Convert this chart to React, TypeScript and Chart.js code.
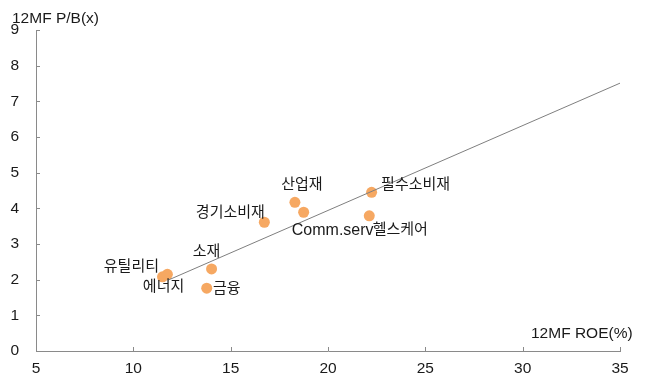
import React, { useEffect, useRef } from "react";
import { Chart, registerables } from "chart.js";

Chart.register(...registerables);

const sectors = ["에너지", "유틸리티", "소재", "금융", "경기소비재", "산업재", "Comm.serv", "필수소비재", "헬스케어"];
const roe = [11.5, 11.75, 14.02, 13.77, 16.73, 18.3, 18.75, 22.24, 22.12];
const pb = [2.08, 2.15, 2.3, 1.76, 3.61, 4.17, 3.89, 4.45, 3.79];
const trendX = [11.8, 35];
const trendY = [1.99, 7.51];
const xTicks = [5, 10, 15, 20, 25, 30, 35];
const yTicks = [0, 1, 2, 3, 4, 5, 6, 7, 8, 9];

// label offsets (px) relative to each point, styling only
const labelOffsets: [number, number][] = [
  [1, 10],
  [-36, -7],
  [-5, -17],
  [20, 1],
  [-34, -9],
  [7, -17],
  [29, 18],
  [44, -7],
  [31, 14],
];

const FONT = '"Liberation Sans", "Noto Sans CJK KR", sans-serif';
const TEXT = "#1a1a1a";
const AXIS = "#8a8a8a";

export default function App() {
  const ref = useRef<HTMLCanvasElement | null>(null);
  useEffect(() => {
    if (!ref.current) return;
    const points = roe.map((x, i) => ({ x, y: pb[i] }));
    const trend = trendX.map((x, i) => ({ x, y: trendY[i] }));

    const extras = {
      id: "extras",
      afterDatasetsDraw(chart: any) {
        const ctx = chart.ctx;
        const xs = chart.scales.x;
        const ys = chart.scales.y;
        ctx.save();
        // inward ticks
        ctx.strokeStyle = AXIS;
        ctx.lineWidth = 1;
        ctx.beginPath();
        xTicks.forEach((v) => {
          const px = Math.round(xs.getPixelForValue(v)) + 0.5;
          ctx.moveTo(px, ys.bottom);
          ctx.lineTo(px, ys.bottom - 4);
        });
        yTicks.forEach((v) => {
          const py = Math.round(ys.getPixelForValue(v)) + 0.5;
          ctx.moveTo(xs.left, py);
          ctx.lineTo(xs.left + 4, py);
        });
        ctx.stroke();
        // point labels
        const meta = chart.getDatasetMeta(1);
        ctx.fillStyle = TEXT;
        ctx.textAlign = "center";
        ctx.textBaseline = "middle";
        meta.data.forEach((el: any, i: number) => {
          const [dx, dy] = labelOffsets[i];
          const latin = /^[\x00-\x7f]+$/.test(sectors[i]);
          ctx.font = (latin ? "16px " : "15px ") + FONT;
          ctx.fillText(sectors[i], el.x + dx, el.y + dy);
        });
        // axis titles
        ctx.font = "15.5px " + FONT;
        ctx.textAlign = "left";
        ctx.textBaseline = "alphabetic";
        ctx.fillText("12MF P/B(x)", 12, 23);
        ctx.fillText("12MF ROE(%)", 531, 338);
        ctx.restore();
      },
    };

    const chart = new Chart(ref.current, {
      type: "scatter",
      data: {
        datasets: [
          {
            data: trend,
            showLine: true,
            borderColor: "#7f7f7f",
            borderWidth: 1,
            pointRadius: 0,
            pointHoverRadius: 0,
            fill: false,
          },
          {
            data: points,
            backgroundColor: "rgb(246,168,98)",
            borderWidth: 0,
            pointRadius: 5.5,
          },
        ],
      },
      options: {
        animation: false,
        responsive: false,
        devicePixelRatio: 1,
        layout: { padding: { left: 0, right: 34, top: 30, bottom: 0 } },
        plugins: { legend: { display: false }, tooltip: { enabled: false } },
        scales: {
          x: {
            type: "linear",
            min: 5,
            max: 35,
            afterBuildTicks: (s: any) => {
              s.ticks = xTicks.map((v) => ({ value: v }));
            },
            afterFit: (s: any) => {
              s.height = 28;
            },
            grid: { drawOnChartArea: false, drawTicks: false },
            border: { display: true, color: AXIS, width: 1 },
            ticks: { color: TEXT, font: { family: FONT, size: 15.5 }, padding: 8, maxRotation: 0 },
          },
          y: {
            type: "linear",
            min: 0,
            max: 9,
            afterBuildTicks: (s: any) => {
              s.ticks = yTicks.map((v) => ({ value: v }));
            },
            afterFit: (s: any) => {
              s.width = 36;
            },
            grid: { drawOnChartArea: false, drawTicks: false },
            border: { display: true, color: AXIS, width: 1 },
            ticks: { color: TEXT, font: { family: FONT, size: 15.5 }, padding: 17 },
          },
        },
      },
      plugins: [extras],
    });
    return () => chart.destroy();
  }, []);

  return (
    <div style={{ position: "fixed", left: 0, top: 0, width: 654, height: 379, background: "#fff" }}>
      <canvas ref={ref} width={654} height={379} style={{ width: 654, height: 379 }} />
    </div>
  );
}
